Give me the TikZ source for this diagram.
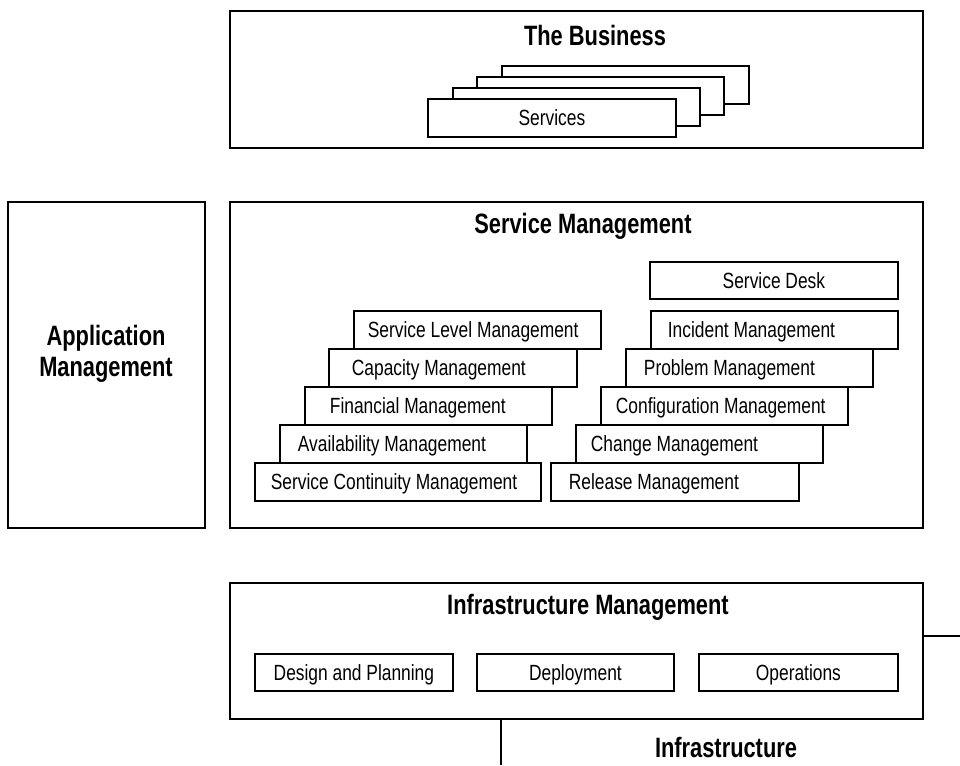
\documentclass[tikz,border=0pt]{standalone}
\usepackage{fontspec}
\setmainfont{Liberation Sans}[FakeStretch=0.79]
\newfontfamily\titlefont{Liberation Sans}[FakeStretch=0.78]
\newcommand{\boxtxt}[3]{\makebox[#1pt][l]{\hspace{#2pt}#3}}
\tikzset{
  frame/.style={draw, line width=1.8pt, fill=white, anchor=north west, inner sep=0pt},
  sbox/.style={draw, line width=1.8pt, fill=white, anchor=north west, inner sep=0pt,
    minimum height=38pt, text height=15.5pt, text depth=0pt,
    font=\fontsize{22}{26}\selectfont},
  title/.style={anchor=base, inner sep=0pt, font=\titlefont\bfseries\fontsize{28}{31}\selectfont},
  conn/.style={line width=1.8pt}
}
\begin{document}
\begin{tikzpicture}[x=1pt,y=-1pt]
\useasboundingbox (0,0) rectangle (960,765);

% The Business
\node[frame, minimum width=693pt, minimum height=137pt] (business) at (229,10) {};
\node[title] (businessT) at (595,46) {The Business};
\node[sbox, minimum width=247pt] (svc4) at (501,65) {};
\node[sbox, minimum width=247pt] (svc3) at (476,76) {};
\node[sbox, minimum width=247pt] (svc2) at (452,87) {};
\node[sbox, minimum width=248pt] (svc1) at (427,98) {Services};

% Application Management
\node[frame, minimum width=197pt, minimum height=326pt] (app) at (7,201) {};
\node[title, anchor=center, align=center] (appT) at (106,354) {Application\\Management};

% Service Management
\node[frame, minimum width=693pt, minimum height=326pt] (sm) at (229,201) {};
\node[title] (smT) at (583,233) {Service Management};

\node[sbox, minimum width=248pt, minimum height=37pt] (desk) at (649,261) {Service Desk};

\node[sbox] (slm) at (353,310) {\boxtxt{247}{14}{Service Level Management}};
\node[sbox] (cap) at (328,348) {\boxtxt{248}{23}{Capacity Management}};
\node[sbox] (fin) at (304,386) {\boxtxt{247}{25}{Financial Management}};
\node[sbox] (avail) at (279,424) {\boxtxt{247}{18}{Availability Management}};
\node[sbox] (scm) at (254,462) {\boxtxt{286}{16}{Service Continuity Management}};

\node[sbox] (inc) at (650,310) {\boxtxt{247}{17}{Incident Management}};
\node[sbox] (prob) at (625,348) {\boxtxt{247}{18}{Problem Management}};
\node[sbox] (conf) at (600,386) {\boxtxt{247}{15}{Configuration Management}};
\node[sbox] (chg) at (575,424) {\boxtxt{247}{15}{Change Management}};
\node[sbox] (rel) at (550,462) {\boxtxt{248}{18}{Release Management}};

% Infrastructure Management
\node[frame, minimum width=693pt, minimum height=136pt] (infra) at (229,582) {};
\node[title] (infraT) at (588,614) {Infrastructure Management};
\node[sbox, minimum width=198pt, minimum height=37pt] (design) at (254,653) {Design and Planning};
\node[sbox, minimum width=197pt, minimum height=37pt] (deploy) at (476,653) {Deployment};
\node[sbox, minimum width=199pt, minimum height=37pt] (ops) at (698,653) {Operations};

% connectors
\coordinate (downEnd) at (501,765);
\coordinate (rightEnd) at (960,636);
\draw[conn] (infra.south -| downEnd) -- (downEnd);
\draw[conn] (infra.east |- rightEnd) -- (rightEnd);

\node[title] (infraLabel) at (726,757) {Infrastructure};
\end{tikzpicture}
\end{document}
